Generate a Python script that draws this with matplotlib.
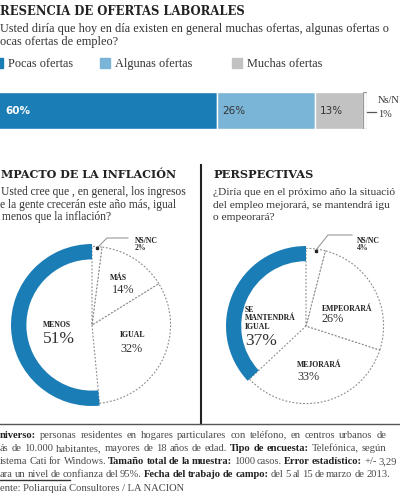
import matplotlib
matplotlib.use('Agg')
import numpy as np
import matplotlib.pyplot as plt
from matplotlib.lines import Line2D
from matplotlib.patches import Rectangle

# --- data ---
oferta_cats = ['Pocas ofertas', 'Algunas ofertas', 'Muchas ofertas', 'Ns/N']
oferta_vals = [60, 26, 13, 1]

infl_cats = ['MENOS', 'IGUAL', 'MÁS', 'NS/NC']
infl_vals = [51, 32, 14, 2]

persp_cats = ['SE\nMANTENDRÁ\nIGUAL', 'MEJORARÁ', 'EMPEORARÁ', 'NS/NC']
persp_vals = [37, 33, 26, 4]

BLUE = '#1b7db6'
LBLUE = '#7ab4d6'
GREY = '#c2c2c2'
TXT = '#333333'
SERIF = 'Liberation Serif'
SLAB = 'DejaVu Serif'

W, H = 400, 500
fig = plt.figure(figsize=(4, 5), dpi=100)
fig.patch.set_facecolor('white')
rend = fig.canvas.get_renderer()


def px(x, y):
    return x / W, 1 - y / H


def txt(x, y, s, size, bold=False, family=SERIF, color=TXT, **kw):
    return fig.text(*px(x, y), s, fontsize=size, fontweight='bold' if bold else 'normal',
                    family=family, color=color, va='baseline', **kw)


def rich(x, y, parts, size, width):
    # justified line made of bold / regular pieces
    words = [(w, bold) for s, bold in parts for w in s.split()]
    arts = [txt(x, y, w, size, bold=b, color='#222222' if b else '#4a4a4a') for w, b in words]
    ws = [a.get_window_extent(rend).width for a in arts]
    gap = (width - sum(ws)) / (len(ws) - 1)
    for a, w in zip(arts, ws):
        a.set_x(x / W)
        x += w + gap


def hline(x0, x1, y, color, lw):
    fig.add_artist(Line2D([x0 / W, x1 / W], [1 - y / H, 1 - y / H], color=color, lw=lw,
                          transform=fig.transFigure))


# --- top block ---
txt(0, 15, 'RESENCIA DE OFERTAS LABORALES', 8.4, bold=True, family=SLAB, color='#222222')
txt(0, 32, 'Usted diría que hoy en día existen en general muchas ofertas, algunas ofertas o', 8.8)
txt(0, 45, 'ocas ofertas de empleo?', 8.8)

leg_x = [-7, 100, 232]
leg_colors = [BLUE, LBLUE, GREY]
for lx, c, lab in zip(leg_x, leg_colors, oferta_cats[:3]):
    fig.add_artist(Rectangle(px(lx, 68), 10 / W, 10 / H, color=c, transform=fig.transFigure))
    txt(lx + 15, 67, lab, 8.8)

ax = fig.add_axes([-8 / W, 1 - 129 / H, 375 / W, 37 / H])
lefts = np.concatenate([[0], np.cumsum(oferta_vals)[:-1]])
ax.barh(0, oferta_vals, left=lefts, height=1, color=[BLUE, LBLUE, GREY, 'white'],
        edgecolor=['white', 'white', 'white', '#999999'], linewidth=[1, 1, 1, 0.9])
ax.set_xlim(0, 100)
ax.set_ylim(-0.5, 0.5)
ax.axis('off')
for i, (l, v) in enumerate(zip(lefts[:3], oferta_vals[:3])):
    ax.text(max(l, 2) + 1.5, -0.02, f'{v}%', va='center', fontsize=7.5,
            family='DejaVu Sans', fontweight='bold' if i == 0 else 'normal',
            color='white' if i == 0 else TXT)
ax.plot([100, 102.4], [-0.05, -0.05], color='#555555', lw=0.9, clip_on=False)
ax.text(103, 0.28, oferta_cats[3], fontsize=7.5, family=SERIF, color=TXT, va='center', clip_on=False)
ax.text(103, -0.1, f'{oferta_vals[3]}%', fontsize=7.5, family=SERIF, color=TXT, va='center', clip_on=False)

# --- dividers ---
fig.add_artist(Line2D([201 / W, 201 / W], [1 - 165 / H, 1 - 424 / H], color='#222222', lw=1.5,
                      transform=fig.transFigure))
hline(0, 400, 424, '#555555', 1.0)

# --- panel headers ---
txt(1, 178, 'MPACTO DE LA INFLACIÓN', 8.0, bold=True, family=SLAB, color='#222222')
txt(1, 195, 'Usted cree que , en general, los ingresos', 8.3)
txt(0, 208, 'e la gente crecerán este año más, igual', 8.3)
txt(2, 220, 'menos que la inflación?', 8.3)

txt(213, 178, 'PERSPECTIVAS', 8.2, bold=True, family=SLAB, color='#222222')
txt(213, 195, '¿Diría que en el próximo año la situació', 8.2)
txt(213, 208, 'del empleo mejorará, se mantendrá igu', 8.2)
txt(213, 220, 'o empeorará?', 8.2)


def donut(cx, cy, r, vals, cats, label_pos, pct_pos, big, leader):
    a = fig.add_axes([(cx - r) / W, 1 - (cy + r) / H, 2 * r / W, 2 * r / H])
    wedges, _ = a.pie(vals, startangle=90, counterclock=True, radius=1)
    for k, w in enumerate(wedges):
        if k == 0:
            w.set_width(0.19)
            w.set_facecolor(BLUE)
            w.set_edgecolor('none')
            w.set_zorder(3)
        else:
            w.set_radius(0.97)
            w.set_facecolor('white')
            w.set_edgecolor('#8a8a8a')
            w.set_linestyle((0, (1.6, 1.6)))
            w.set_linewidth(0.8)
    a.set_xlim(-1, 1)
    a.set_ylim(-1, 1)
    a.axis('off')
    for k, (c, v) in enumerate(zip(cats, vals)):
        lx, ly = label_pos[k]
        a.text(lx, ly, c, fontsize=5.6, family=SERIF, fontweight='bold', color='#222222',
               va='baseline', linespacing=1.1, clip_on=False)
        qx, qy = pct_pos[k]
        a.text(qx, qy, f'{v}%', fontsize=big[k], family=SERIF, color=TXT,
               va='baseline', clip_on=False, fontweight='bold' if k == 3 else 'normal')
    w = wedges[-1]
    th = np.radians((w.theta1 + w.theta2) / 2)
    dx, dy = 0.95 * np.cos(th), 0.95 * np.sin(th)
    ex, ey, fx = leader
    a.plot([dx, ex, fx], [dy, ey, ey], color='#999999', lw=0.8, clip_on=False)
    a.plot(dx, dy, 's', ms=2, color='#222222', clip_on=False, zorder=5)
    return a


donut(92, 325, 81, infl_vals, infl_cats,
      [(-0.6, -0.025), (0.346, -0.148), (0.22, 0.555), (0.53, 1.01)],
      [(-0.6, -0.22), (0.346, -0.333), (0.247, 0.395), (0.53, 0.926)],
      [12.5, 8.8, 8.8, 5.6],
      (0.185, 1.074, 0.444))

donut(306, 326, 80, persp_vals, persp_cats,
      [(-0.7625, -0.0375), (-0.1125, -0.5125), (0.2, 0.1875), (0.6375, 1.0375)],
      [(-0.7625, -0.2375), (-0.1125, -0.675), (0.2, 0.05), (0.6375, 0.95)],
      [12.5, 8.8, 8.8, 5.6],
      (0.275, 1.1375, 0.575))

# --- footer ---
fs = 7.6
rich(0, 438, [('niverso:', True),
              ('personas residentes en hogares particulares con teléfono, en centros urbanos de', False)], fs, 386)
rich(0, 451, [('ás de 10.000 habitantes, mayores de 18 años de edad.', False),
              ('Tipo de encuesta:', True), ('Telefónica, según', False)], fs, 386)
rich(0, 464, [('istema Cati for Windows.', False), ('Tamaño total de la muestra:', True),
              ('1000 casos.', False), ('Error estadístico:', True), ('+/- 3,29', False)], fs, 397)
rich(0, 477, [('ara un nivel de confianza del 95%.', False), ('Fecha del trabajo de campo:', True),
              ('del 5 al 15 de marzo de 2013.', False)], fs, 390)
hline(0, 70, 480, '#333333', 1.0)
txt(0, 491, 'ente: Poliarquía Consultores / LA NACION', fs, color='#4a4a4a')

fig.savefig('out.png', dpi=100, facecolor='white')
